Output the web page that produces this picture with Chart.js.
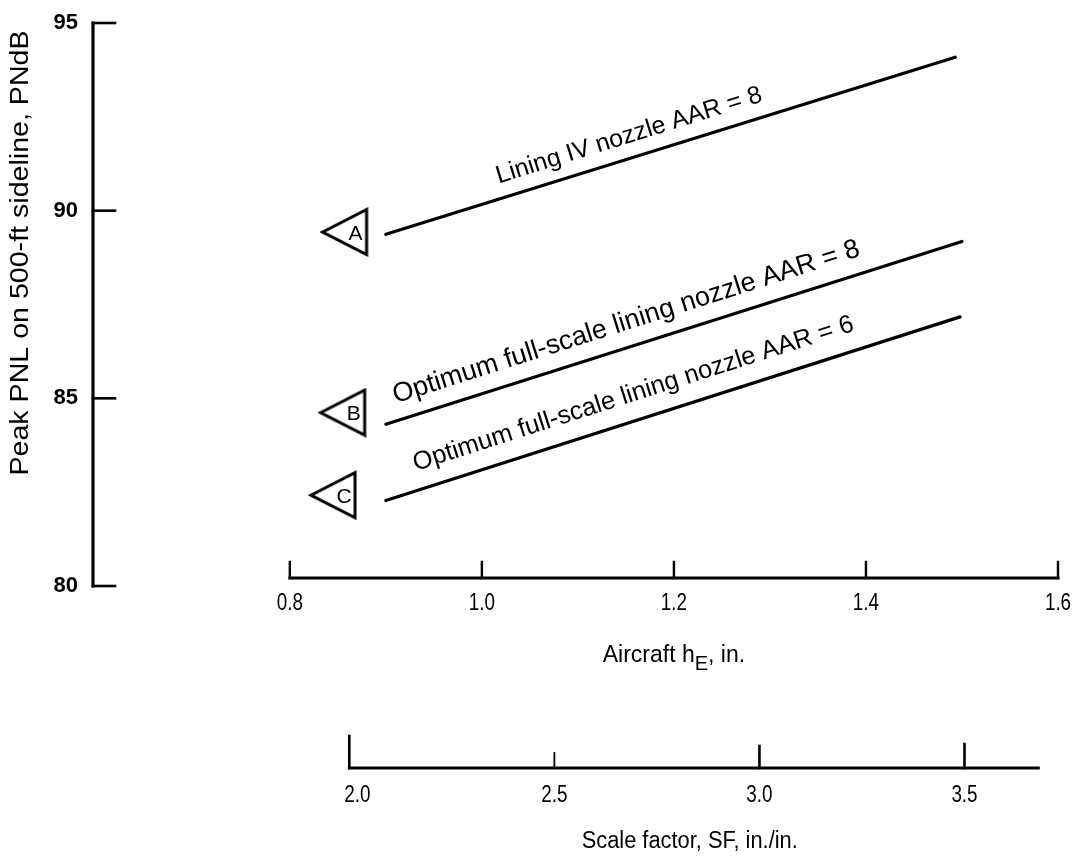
<!DOCTYPE html>
<html>
<head>
<meta charset="utf-8">
<script src="https://cdn.jsdelivr.net/npm/chart.js@4.4.0/dist/chart.umd.min.js"></script>
<style>
  html, body { margin: 0; padding: 0; background: #ffffff; }
  #wrap { width: 1081px; height: 860px; }
</style>
</head>
<body>
<div id="wrap"><canvas id="chart" width="1081" height="860"></canvas></div>
<script>
// Peak PNL on a 500-ft sideline versus aircraft nozzle height h_E
const seriesKeys   = ['A', 'B', 'C'];
const seriesLabels = [
  'Lining IV nozzle AAR = 8',
  'Optimum full-scale lining nozzle AAR = 8',
  'Optimum full-scale lining nozzle AAR = 6'
];
const hEStart   = [0.90, 0.90, 0.90];     // in.
const hEEnd     = [1.493, 1.50, 1.498];   // in.
const pnlStart  = [89.37, 84.31, 82.28];  // PNdB
const pnlEnd    = [94.09, 89.18, 87.17];  // PNdB
const markerHE  = [0.857, 0.855, 0.845];
const markerPNL = [89.43, 84.62, 82.42];
const labelHE   = [1.16, 1.158, 1.166];   // where each line's caption is centred

const pnlTicks = [80, 85, 90, 95];
const hETicks  = [0.8, 1.0, 1.2, 1.4, 1.6];
const sfTicks  = [2.0, 2.5, 3.0, 3.5];

const SANS = '"Liberation Sans", Arial, Helvetica, sans-serif';
const INK = '#000000';
const captionSize = [25, 27, 25.5];
const captionGap  = [15, 17, 19];

// left-pointing flag used for the A/B/C markers
function makeFlag() {
  const c = document.createElement('canvas');
  c.width = 50; c.height = 50;
  const g = c.getContext('2d');
  g.lineWidth = 3;
  g.lineJoin = 'miter';
  g.strokeStyle = INK;
  g.fillStyle = '#ffffff';
  g.beginPath();
  g.moveTo(3, 25);
  g.lineTo(47, 2.5);
  g.lineTo(47, 47.5);
  g.closePath();
  g.fill();
  g.stroke();
  return c;
}
const flag = makeFlag();

const lineSets = seriesKeys.map((k, i) => ({
  label: seriesLabels[i],
  data: [{ x: hEStart[i], y: pnlStart[i] }, { x: hEEnd[i], y: pnlEnd[i] }],
  showLine: true,
  borderColor: INK,
  borderWidth: 3.2,
  pointRadius: 0,
  pointHoverRadius: 0,
  borderCapStyle: 'round',
  fill: false
}));

const markerSet = {
  label: 'markers',
  data: seriesKeys.map((k, i) => ({ x: markerHE[i], y: markerPNL[i] })),
  showLine: false,
  pointStyle: flag,
  pointRadius: 22,
  pointHoverRadius: 22,
  borderColor: INK,
  backgroundColor: '#ffffff'
};

// text with an optional stretch along the writing direction
function text(ctx, s, x, y, font, align, base, rot, sx) {
  ctx.save();
  ctx.translate(x, y);
  if (rot) ctx.rotate(rot);
  if (sx) ctx.scale(sx, 1);
  ctx.font = font;
  ctx.fillStyle = INK;
  ctx.textAlign = align || 'center';
  ctx.textBaseline = base || 'middle';
  ctx.fillText(s, 0, 0);
  ctx.restore();
}

function seg(ctx, x1, y1, x2, y2, w) {
  ctx.save();
  ctx.strokeStyle = INK;
  ctx.lineWidth = w;
  ctx.lineCap = 'square';
  ctx.beginPath();
  ctx.moveTo(x1, y1);
  ctx.lineTo(x2, y2);
  ctx.stroke();
  ctx.restore();
}

const axesPlugin = {
  id: 'figureAxes',
  afterDraw(chart) {
    const ctx = chart.ctx;
    const xs = chart.scales.x, ys = chart.scales.y, sf = chart.scales.sf;
    const left = chart.chartArea.left;

    // PNL axis
    const yTop = ys.getPixelForValue(95), yBot = ys.getPixelForValue(80);
    seg(ctx, left, yTop, left, yBot, 3.2);
    pnlTicks.forEach(v => {
      const p = ys.getPixelForValue(v);
      seg(ctx, left, p, left + 22, p, 2.6);
      text(ctx, String(v), left - 15, p, 'bold 22px ' + SANS, 'right', 'middle');
    });
    text(ctx, 'Peak PNL on 500-ft sideline, PNdB', 21, 253, '26px ' + SANS, 'center', 'middle', -Math.PI / 2, 1.1);

    // h_E axis
    const hy = yBot - 8;
    seg(ctx, xs.getPixelForValue(0.8), hy, xs.getPixelForValue(1.6), hy, 3);
    hETicks.forEach(v => {
      const p = xs.getPixelForValue(v);
      seg(ctx, p, hy, p, hy - 16, 2.4);
      text(ctx, v.toFixed(1), p, hy + 26, '23px ' + SANS, 'center', 'middle', 0, 0.82);
    });
    // axis title with subscript E
    ctx.save();
    const cx = xs.getPixelForValue(1.2), ty = hy + 84;
    ctx.font = '23px ' + SANS;
    const a = 'Aircraft h', b = 'E', c = ', in.';
    const wa = ctx.measureText(a).width, wc = ctx.measureText(c).width;
    ctx.font = '20px ' + SANS;
    const wb = ctx.measureText(b).width;
    const x0 = cx - (wa + wb + wc) / 2;
    ctx.fillStyle = INK;
    ctx.textBaseline = 'alphabetic';
    ctx.textAlign = 'left';
    ctx.font = '23px ' + SANS;
    ctx.fillText(a, x0, ty);
    ctx.font = '20px ' + SANS;
    ctx.fillText(b, x0 + wa, ty + 8);
    ctx.font = '23px ' + SANS;
    ctx.fillText(c, x0 + wa + wb, ty);
    ctx.restore();

    // scale factor axis
    const sy = yBot + 182;
    seg(ctx, sf.getPixelForValue(2.0), sy, sf.getPixelForValue(3.68), sy, 3);
    const tickLen = [32, 15, 22, 24];
    sfTicks.forEach((v, i) => {
      const p = sf.getPixelForValue(v);
      seg(ctx, p, sy, p, sy - tickLen[i], i === 1 ? 1.8 : 2.6);
      text(ctx, v.toFixed(1), p + (i === 0 ? 8 : 0), sy + 28, '23px ' + SANS, 'center', 'middle', 0, 0.82);
    });
    text(ctx, 'Scale factor, SF, in./in.', sf.getPixelForValue(2.83), sy + 74, '23px ' + SANS, 'center', 'middle', 0, 0.95);

    // captions along each line and marker letters
    const meta = chart.getDatasetMeta(seriesKeys.length);
    seriesKeys.forEach((k, i) => {
      const x1 = xs.getPixelForValue(hEStart[i]), y1 = ys.getPixelForValue(pnlStart[i]);
      const x2 = xs.getPixelForValue(hEEnd[i]), y2 = ys.getPixelForValue(pnlEnd[i]);
      const ang = Math.atan2(y2 - y1, x2 - x1);
      const t = (labelHE[i] - hEStart[i]) / (hEEnd[i] - hEStart[i]);
      const px = x1 + (x2 - x1) * t, py = y1 + (y2 - y1) * t;
      const off = captionGap[i];
      const ox = px + Math.sin(ang) * off, oy = py - Math.cos(ang) * off;
      text(ctx, seriesLabels[i], ox, oy, captionSize[i] + 'px ' + SANS, 'center', 'alphabetic', ang);

      const el = meta.data[i];
      text(ctx, k, el.x + 11, el.y + 2, '21px ' + SANS, 'center', 'middle');
    });
  }
};

new Chart(document.getElementById('chart'), {
  type: 'scatter',
  data: { datasets: [...lineSets, markerSet] },
  options: {
    responsive: false,
    animation: false,
    devicePixelRatio: 1,
    layout: { padding: { left: 93, top: 19, right: 17, bottom: 274 } },
    plugins: { legend: { display: false }, tooltip: { enabled: false }, title: { display: false } },
    events: [],
    scales: {
      x:  { type: 'linear', min: 0.595, max: 1.6, display: false },
      sf: { type: 'linear', axis: 'x', min: 1.375, max: 3.728, display: false },
      y:  { type: 'linear', min: 80, max: 95, display: false }
    }
  },
  plugins: [axesPlugin]
});
</script>
</body>
</html>
